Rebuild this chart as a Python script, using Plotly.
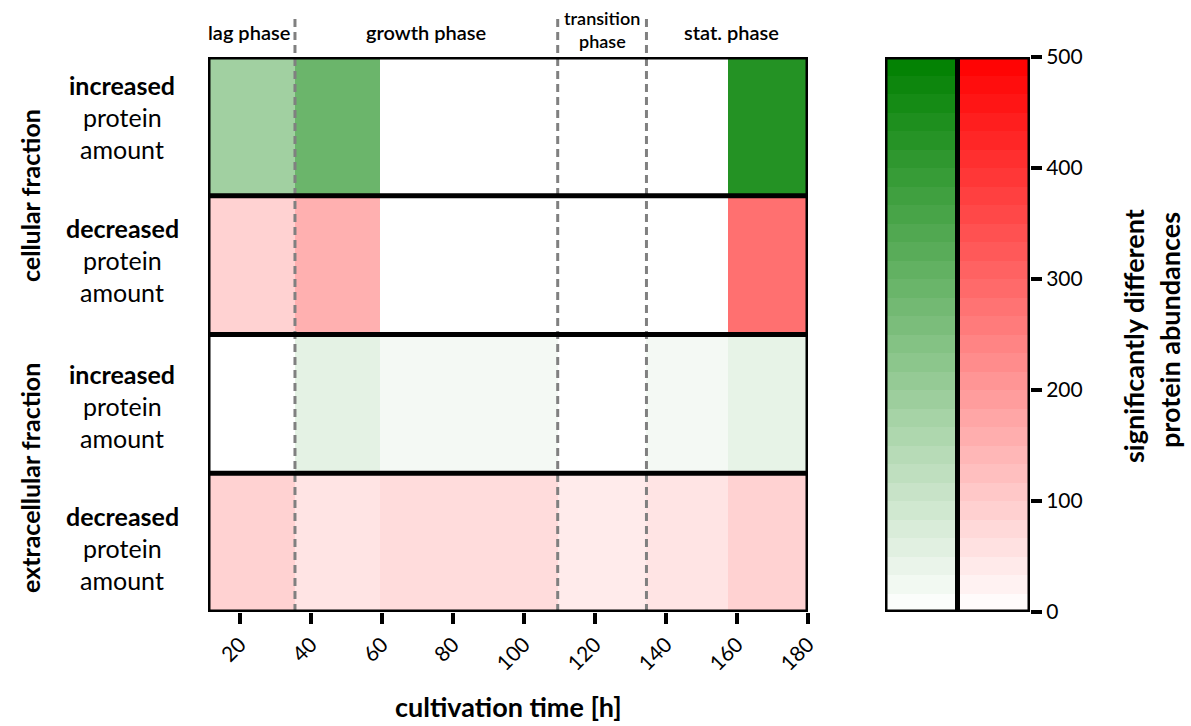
import numpy as np
import plotly.graph_objects as go

# ---------------- data ----------------
# cell edges along cultivation time [h]
time_edges = [11, 35.5, 59.5, 109.5, 134.5, 157.5, 180]
phase_lines = [35.5, 109.5, 134.5]
phase_labels = ["lag phase", "growth phase", "transition<br>phase", "stat. phase"]
phase_centers = [22.5, 72.5, 122.0, 158.5]

row_names = ["cellular increased", "cellular decreased",
             "extracellular increased", "extracellular decreased"]
cell_inc = [185, 290, 0, 0, 0, 430]
cell_dec = [88, 155, 0, 0, 0, 280]
extra_inc = [0, 53, 22, 0, 22, 48]
extra_dec = [88, 53, 69, 39, 53, 88]

x_ticks = [20, 40, 60, 80, 100, 120, 140, 160, 180]
legend_ticks = [0, 100, 200, 300, 400, 500]
zmax = 500

green_scale = [[0, "rgb(255,255,255)"], [1, "rgb(0,128,0)"]]
red_scale = [[0, "rgb(255,255,255)"], [1, "rgb(255,0,0)"]]

FONT = "Lato, 'Open Sans', sans-serif"

fig = go.Figure()

rows = [(cell_inc, green_scale, 3), (cell_dec, red_scale, 2),
        (extra_inc, green_scale, 1), (extra_dec, red_scale, 0)]
for vals, cs, y0 in rows:
    fig.add_trace(go.Heatmap(
        z=[vals], x=time_edges, y=[y0, y0 + 1],
        colorscale=cs, zmin=0, zmax=zmax, showscale=False,
        xaxis="x", yaxis="y", hoverinfo="skip"))

# colour key (banded like the reference)
n_bands = 30
band_edges = np.linspace(0, zmax, n_bands + 1)
band_vals = (band_edges[:-1] + band_edges[1:]) / 2
fig.add_trace(go.Heatmap(
    z=[[v] for v in band_vals], x=[0, 1], y=band_edges,
    colorscale=green_scale, zmin=0, zmax=zmax, showscale=False,
    xaxis="x2", yaxis="y2", hoverinfo="skip"))
fig.add_trace(go.Heatmap(
    z=[[v] for v in band_vals], x=[1, 2], y=band_edges,
    colorscale=red_scale, zmin=0, zmax=zmax, showscale=False,
    xaxis="x2", yaxis="y2", hoverinfo="skip"))

W, H = 1191, 726
def px_x(p): return p / W
def px_y(p): return 1 - p / H

y_dom = [px_y(612), px_y(57)]
LW = 5

shapes = []
# phase dashed lines
for xl in phase_lines:
    shapes.append(dict(type="line", xref="x", yref="paper", x0=xl, x1=xl,
                       y0=y_dom[0], y1=px_y(17), line=dict(color="rgb(128,128,128)", width=3, dash="8px,5px"),
                       layer="above"))
# main frame and row separators
shapes.append(dict(type="rect", xref="x", yref="y", x0=time_edges[0], x1=time_edges[-1],
                   y0=0, y1=4, line=dict(color="black", width=LW), layer="above"))
for yy in [1, 2, 3]:
    shapes.append(dict(type="line", xref="x", yref="y", x0=time_edges[0], x1=time_edges[-1],
                       y0=yy, y1=yy, line=dict(color="black", width=LW), layer="above"))
# key frame
shapes.append(dict(type="rect", xref="x2", yref="y2", x0=0, x1=2, y0=0, y1=zmax,
                   line=dict(color="black", width=LW), layer="above"))
shapes.append(dict(type="line", xref="x2", yref="y2", x0=1, x1=1, y0=0, y1=zmax,
                   line=dict(color="black", width=LW), layer="above"))

def ann(text, x, y, size, xref="paper", angle=0, weight=None):
    f = dict(size=size, family=FONT, color="black")
    if weight:
        f["weight"] = weight
    return dict(text=text, x=x, y=y, xref=xref, yref="paper", showarrow=False,
                xanchor="center", yanchor="middle", textangle=angle, font=f)

annotations = []
for lab, xc in zip(phase_labels, phase_centers):
    if "<br>" in lab:
        l1, l2 = lab.split("<br>")
        annotations.append(ann(l1, xc, px_y(18), 18, xref="x", weight=600))
        annotations.append(ann(l2, xc, px_y(41), 18, xref="x", weight=600))
    else:
        annotations.append(ann(lab, xc, px_y(32), 20, xref="x", weight=600))

row_label_y = [(85, 117, 149), (228, 260, 292), (374, 406, 438), (516, 548, 580)]
words = ["increased", "decreased", "increased", "decreased"]
for w, (a, b, c) in zip(words, row_label_y):
    annotations.append(ann(f"<b>{w}</b>", px_x(122), px_y(a), 25))
    annotations.append(ann("protein", px_x(122), px_y(b), 25))
    annotations.append(ann("amount", px_x(122), px_y(c), 25))

annotations.append(ann("<b>cellular fraction</b>", px_x(30), px_y(196), 25, angle=-90))
annotations.append(ann("<b>extracellular fraction</b>", px_x(30), px_y(478), 25, angle=-90))
annotations.append(ann("<b>cultivation time [h]</b>", px_x(508), px_y(706), 27))
annotations.append(ann("<b>significantly different</b>", px_x(1133), px_y(336), 27, angle=-90))
annotations.append(ann("<b>protein abundances</b>", px_x(1169), px_y(330), 27, angle=-90))

fig.update_layout(
    template="none",
    width=W, height=H, margin=dict(l=0, r=0, t=0, b=0, pad=0, autoexpand=False),
    paper_bgcolor="white", plot_bgcolor="white",
    font=dict(family=FONT, color="black"),
    showlegend=False,
    xaxis=dict(domain=[px_x(208), px_x(808)], range=[time_edges[0], time_edges[-1]],
               tickvals=x_ticks, ticktext=[str(t) for t in x_ticks], tickangle=-45,
               ticks="outside", ticklen=11, tickwidth=3.5, tickcolor="black",
               tickfont=dict(size=21, family=FONT, color="black"), automargin=False,
               showgrid=False, zeroline=False, showline=False, anchor="y"),
    yaxis=dict(domain=y_dom, range=[0, 4], showticklabels=False, ticks="", automargin=False,
               showgrid=False, zeroline=False, showline=False, anchor="x"),
    xaxis2=dict(domain=[px_x(885), px_x(1030)], range=[0, 2], showticklabels=False, ticks="",
                automargin=False, showgrid=False, zeroline=False, showline=False, anchor="y2"),
    yaxis2=dict(domain=y_dom, range=[0, zmax], side="right", anchor="x2",
                tickvals=legend_ticks, ticks="outside", ticklen=11, tickwidth=3.5, tickcolor="black",
                tickfont=dict(size=21, family=FONT, color="black"), automargin=False,
                showgrid=False, zeroline=False, showline=False),
    shapes=shapes, annotations=annotations,
)

fig.write_html("out.html")
